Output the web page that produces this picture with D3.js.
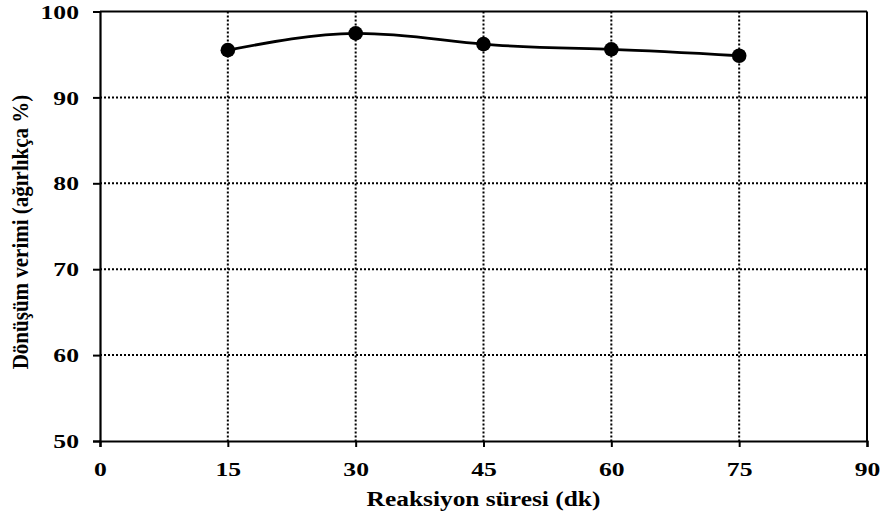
<!DOCTYPE html>
<html><head><meta charset="utf-8">
<script src="https://cdn.jsdelivr.net/npm/d3@7"></script>
<style>body{margin:0;background:#fff}svg{display:block}text{font-family:"Liberation Serif","Times New Roman",serif;font-weight:bold;fill:#000}</style>
</head><body>
<svg id="c" width="883" height="515"></svg>
<script>
const times = [15, 30, 45, 60, 75];
const yields = [95.5, 97.45, 96.2, 95.6, 94.85];
const xTicks = [0, 15, 30, 45, 60, 75, 90];
const yTicks = [50, 60, 70, 80, 90, 100];
const xTitle = "Reaksiyon süresi (dk)";
const yTitle = "Dönüşüm verimi (ağırlıkça %)";

const svg = d3.select("#c");
const L = 100, R = 867, T = 11.5, B = 441;
const SX = 1.35;
const x = d3.scaleLinear().domain([0, 90]).range([L, R]);
const y = d3.scaleLinear().domain([50, 100]).range([B, T]);

// grid
const g = svg.append("g");
g.selectAll("line.vg").data(xTicks.filter(d => d > 0 && d < 90)).join("line")
  .attr("x1", d => x(d)).attr("x2", d => x(d)).attr("y1", T).attr("y2", B)
  .attr("stroke", "#000").attr("stroke-width", 2).attr("stroke-dasharray", "2,2");
g.selectAll("line.hg").data(yTicks.filter(d => d > 50 && d < 100)).join("line")
  .attr("x1", L).attr("x2", R).attr("y1", d => y(d)).attr("y2", d => y(d))
  .attr("stroke", "#000").attr("stroke-width", 2).attr("stroke-dasharray", "2,2");

// frame top/right
svg.append("line").attr("x1", L).attr("x2", R).attr("y1", T).attr("y2", T).attr("stroke", "#000").attr("stroke-width", 2);
svg.append("line").attr("x1", R).attr("x2", R).attr("y1", T).attr("y2", B).attr("stroke", "#000").attr("stroke-width", 2);

// axes
const xa = svg.append("g").attr("transform", `translate(0,${B})`)
  .call(d3.axisBottom(x).tickValues(xTicks).tickSize(6).tickPadding(16).tickFormat(d3.format("d")));
const ya = svg.append("g").attr("transform", `translate(${L},0)`)
  .call(d3.axisLeft(y).tickValues(yTicks).tickSize(7).tickPadding(14).tickFormat(d3.format("d")));
[xa, ya].forEach(a => {
  a.select(".domain").attr("stroke", "#000").attr("stroke-width", 2.2);
  a.selectAll(".tick line").attr("stroke", "#000").attr("stroke-width", 2);
  a.selectAll("text").attr("font-size", 19).attr("font-family", "Liberation Serif").attr("font-weight", "bold").attr("fill", "#000")
    .attr("transform", `scale(${SX},1)`);
});
ya.selectAll(".tick text").attr("x", -21 / SX).attr("dy", "0.35em");

// line
const line = d3.line().x((d, i) => x(times[i])).y(d => y(d)).curve(d3.curveNatural);
svg.append("path").datum(yields).attr("d", line).attr("fill", "none").attr("stroke", "#000").attr("stroke-width", 2.8);
svg.selectAll("circle.p").data(yields).join("circle")
  .attr("cx", (d, i) => x(times[i])).attr("cy", d => y(d)).attr("r", 7.3).attr("fill", "#000");

// titles
svg.append("text").attr("transform", `translate(${(L + R) / 2},506) scale(1.27,1)`).attr("text-anchor", "middle").attr("font-size", 20).text(xTitle);
svg.append("text").attr("transform", `translate(28,232) rotate(-90) scale(1,1.1)`).attr("text-anchor", "middle").attr("font-size", 21).text(yTitle);
</script>
</body></html>
